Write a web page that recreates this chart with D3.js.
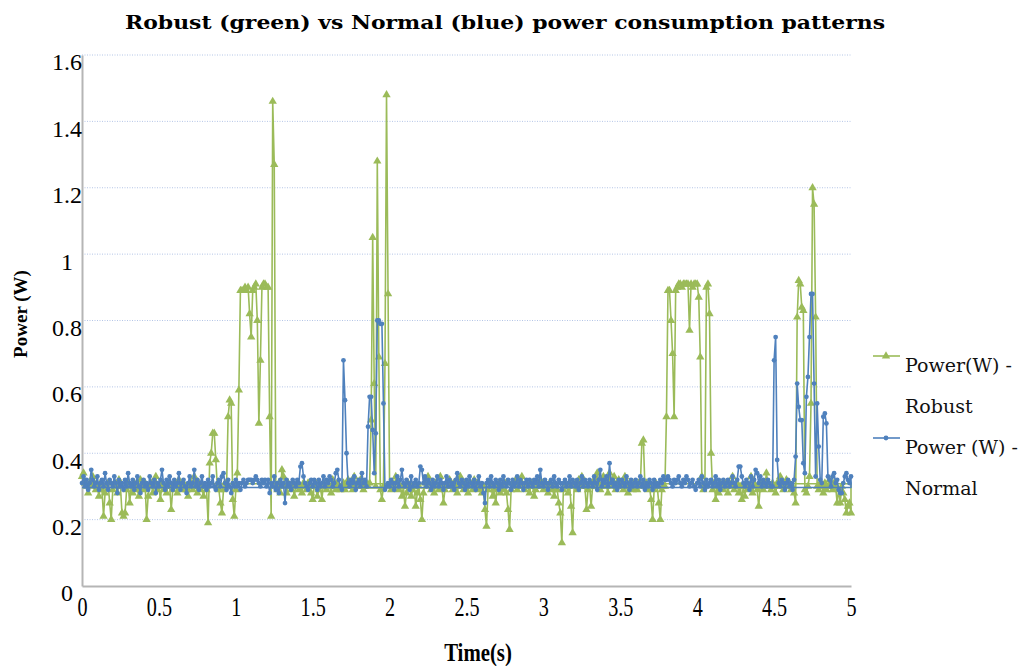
<!DOCTYPE html>
<html>
<head>
<meta charset="utf-8">
<script src="https://d3js.org/d3.v7.min.js"></script>
<style>
  body { margin: 0; background: #fff; }
  svg { display: block; }
  text { font-family: "Liberation Serif", "Times New Roman", Times, serif; }
</style>
</head>
<body>
<svg id="chart"></svg>
<script>

// samples every 10 ms, 0 .. 5 s
var timeStep = 0.01;

var robust = [
  .33,.34,.31,.30,.28,.31,.30,.33,.31,.29,
  .30,.27,.31,.29,.21,.28,.30,.31,.25,.20,
  .29,.31,.30,.28,.32,.30,.22,.21,.22,.29,
  .31,.25,.30,.28,.31,.30,.29,.27,.32,.30,
  .29,.31,.20,.27,.30,.31,.28,.30,.33,.29,
  .30,.26,.31,.29,.30,.28,.31,.30,.23,.29,
  .31,.30,.28,.32,.30,.29,.31,.30,.29,.27,
  .30,.31,.29,.33,.30,.28,.31,.29,.30,.27,
  .30,.29,.19,.37,.40,.46,.46,.38,.30,.29,
  .25,.22,.29,.31,.30,.51,.56,.55,.26,.21,
  .29,.34,.59,.89,.89,.89,.90,.89,.90,.82,
  .75,.89,.90,.91,.80,.49,.68,.90,.91,.91,
  .90,.90,.51,.21,1.46,1.27,.30,.29,.31,.28,
  .35,.33,.30,.28,.31,.30,.29,.31,.27,.30,
  .31,.29,.30,.28,.31,.30,.29,.31,.30,.28,
  .26,.30,.31,.27,.29,.30,.26,.31,.30,.29,
  .31,.30,.28,.32,.30,.29,.31,.30,.29,.30,
  .31,.29,.30,.32,.31,.30,.29,.33,.30,.31,
  .30,.32,.31,.29,.30,.31,.30,.31,.50,1.05,
  .61,.30,1.28,.69,.29,.26,.30,.67,1.48,.88,
  .30,.29,.31,.30,.33,.31,.29,.30,.27,.30,
  .24,.28,.31,.30,.27,.29,.30,.24,.28,.30,
  .26,.20,.28,.31,.30,.33,.31,.29,.30,.28,
  .31,.30,.29,.33,.30,.25,.29,.31,.30,.32,
  .30,.29,.31,.30,.28,.31,.33,.30,.29,.31,
  .30,.28,.31,.30,.29,.32,.30,.31,.29,.30,
  .28,.30,.23,.18,.29,.31,.30,.27,.29,.25,
  .30,.31,.28,.30,.29,.31,.28,.23,.17,.29,
  .31,.30,.32,.29,.31,.30,.33,.30,.29,.31,
  .30,.28,.31,.30,.27,.29,.31,.30,.32,.30,
  .29,.31,.30,.28,.31,.30,.29,.27,.30,.29,
  .25,.22,.13,.29,.31,.30,.28,.31,.24,.16,
  .30,.31,.29,.32,.30,.33,.31,.30,.23,.29,
  .31,.24,.30,.32,.30,.34,.31,.29,.30,.33,
  .31,.30,.28,.34,.31,.30,.33,.29,.30,.32,
  .30,.31,.29,.33,.30,.28,.31,.30,.29,.31,
  .30,.29,.31,.30,.43,.44,.30,.31,.29,.30,
  .26,.20,.29,.31,.30,.25,.20,.29,.30,.30,
  .51,.89,.89,.80,.70,.51,.89,.90,.91,.91,
  .90,.91,.91,.91,.91,.77,.91,.90,.91,.91,
  .91,.87,.69,.33,.29,.30,.90,.91,.82,.40,
  .29,.31,.26,.30,.28,.31,.30,.29,.31,.30,
  .28,.31,.30,.33,.29,.30,.31,.28,.30,.26,
  .30,.27,.31,.29,.30,.33,.28,.31,.30,.29,
  .24,.30,.31,.29,.30,.34,.31,.30,.29,.31,
  .30,.28,.31,.30,.33,.31,.29,.30,.32,.30,
  .31,.29,.30,.28,.25,.81,.92,.91,.84,.83,
  .29,.28,.30,.33,.55,1.20,1.15,.81,.30,.29,
  .31,.30,.28,.31,.29,.30,.32,.30,.29,.31,
  .30,.25,.29,.25,.30,.28,.26,.22,.24,.25,
  .22
];

var normal = [
  .31,.33,.30,.32,.29,.31,.35,.32,.30,.31,
  .33,.29,.31,.32,.30,.34,.31,.29,.32,.31,
  .30,.33,.31,.28,.32,.30,.31,.29,.32,.30,
  .34,.31,.30,.32,.29,.31,.33,.30,.28,.31,
  .32,.30,.31,.29,.33,.31,.30,.32,.28,.31,
  .30,.32,.35,.31,.29,.32,.30,.33,.31,.29,
  .32,.30,.31,.34,.29,.31,.32,.30,.28,.31,
  .33,.30,.31,.35,.30,.32,.29,.31,.33,.30,
  .31,.29,.32,.30,.31,.33,.30,.29,.31,.32,
  .30,.33,.34,.31,.29,.32,.30,.28,.31,.30,
  .32,.30,.31,.29,.31,.32,.30,.31,.32,.32,
  .32,.31,.32,.33,.32,.31,.30,.32,.31,.32,
  .30,.32,.28,.31,.30,.33,.29,.31,.28,.32,
  .30,.31,.25,.32,.30,.31,.29,.32,.31,.30,
  .32,.31,.36,.37,.33,.31,.30,.29,.31,.32,
  .30,.32,.31,.29,.32,.30,.31,.33,.30,.32,
  .31,.33,.32,.30,.31,.34,.35,.32,.30,.29,
  .68,.56,.40,.31,.30,.32,.31,.33,.29,.31,
  .32,.30,.34,.31,.32,.30,.48,.57,.57,.47,
  .34,.46,.80,.80,.79,.79,.55,.29,.30,.31,
  .30,.32,.31,.29,.31,.33,.30,.32,.35,.31,
  .30,.32,.31,.29,.33,.30,.31,.32,.30,.31,
  .36,.35,.31,.33,.30,.32,.31,.29,.32,.30,
  .31,.33,.30,.32,.31,.29,.31,.33,.30,.32,
  .30,.31,.29,.32,.34,.31,.30,.32,.31,.29,
  .32,.30,.33,.31,.30,.32,.29,.31,.33,.30,
  .31,.28,.25,.31,.32,.30,.33,.31,.30,.32,
  .31,.29,.32,.30,.33,.31,.30,.32,.31,.29,
  .32,.30,.31,.33,.30,.32,.31,.29,.31,.32,
  .30,.32,.31,.30,.32,.31,.33,.30,.35,.31,
  .30,.32,.31,.29,.31,.32,.30,.33,.31,.30,
  .32,.31,.29,.31,.32,.30,.31,.33,.30,.32,
  .31,.30,.32,.29,.31,.33,.30,.32,.31,.30,
  .32,.31,.30,.33,.31,.29,.32,.35,.30,.32,
  .31,.33,.30,.37,.31,.32,.30,.31,.29,.32,
  .30,.32,.31,.30,.33,.31,.29,.32,.30,.31,
  .32,.30,.31,.33,.30,.32,.29,.31,.30,.32,
  .31,.29,.32,.30,.31,.30,.32,.31,.33,.32,
  .32,.33,.32,.31,.30,.32,.31,.32,.33,.31,
  .30,.32,.31,.33,.32,.30,.31,.32,.30,.29,
  .31,.32,.30,.33,.31,.29,.32,.30,.31,.32,
  .30,.31,.33,.30,.32,.29,.31,.32,.30,.31,
  .32,.30,.31,.33,.31,.30,.32,.36,.36,.33,
  .31,.30,.32,.31,.29,.33,.30,.32,.35,.34,
  .31,.33,.30,.32,.31,.30,.32,.31,.30,.30,
  .68,.75,.38,.31,.30,.32,.31,.29,.31,.32,
  .30,.31,.29,.32,.39,.61,.54,.50,.50,.37,
  .34,.57,.63,.75,.88,.88,.61,.33,.55,.42,
  .32,.31,.51,.52,.49,.33,.32,.30,.33,.34,
  .31,.32,.29,.28,.28,.31,.33,.34,.32,.31,
  .33
];

// level of the flat return segment each series draws across the whole span
var robustReturn = 0.308;
var normalReturn = 0.297;

var yTicks = [0, 0.2, 0.4, 0.6, 0.8, 1, 1.2, 1.4, 1.6];
var xTicks = [0, 0.5, 1, 1.5, 2, 2.5, 3, 3.5, 4, 4.5, 5];

var green = "#9bbb59";
var blue = "#4f81bd";
var serif = "'Liberation Serif', 'Times New Roman', Times, serif";

var width = 1029, height = 666;
var svg = d3.select("#chart").attr("width", width).attr("height", height);

var x = d3.scaleLinear().domain([0, 5]).range([82, 851]);
var y = d3.scaleLinear().domain([0, 1.6]).range([586, 55]);

// gridlines
svg.append("g")
  .selectAll("line")
  .data(yTicks.filter(function (d) { return d > 0; }))
  .enter().append("line")
  .attr("x1", x(0)).attr("x2", x(5))
  .attr("y1", function (d) { return y(d); })
  .attr("y2", function (d) { return y(d); })
  .style("stroke", "#b4c5e6")
  .style("stroke-width", 1)
  .style("stroke-dasharray", "1,1.5");

// y axis
var yAxis = svg.append("g")
  .attr("transform", "translate(" + x(0) + ",0)")
  .call(d3.axisLeft(y).tickValues(yTicks).tickSize(0).tickPadding(15)
    .tickFormat(function (d) { return String(d); }));
yAxis.attr("font-family", null);
yAxis.select(".domain").style("stroke", "#b5b5b5").style("stroke-width", 2);
yAxis.selectAll("text")
  .attr("text-anchor", "middle")
  .attr("dy", "0.62em")
  .style("font-family", serif)
  .style("font-size", "24px")
  .style("fill", "#000");

// x axis
var xAxis = svg.append("g")
  .attr("transform", "translate(0," + y(0) + ")")
  .call(d3.axisBottom(x).tickValues(xTicks).tickSize(0).tickPadding(10)
    .tickFormat(function (d) { return String(d); }));
xAxis.attr("font-family", null);
xAxis.select(".domain").style("stroke", "#b5b5b5").style("stroke-width", 2);
xAxis.selectAll("text")
  .attr("transform", "scale(0.72,1)")
  .style("font-family", serif)
  .style("font-size", "28px")
  .style("fill", "#000");

function points(values) {
  return values.map(function (v, i) { return [i * timeStep, v]; });
}

var line = d3.line()
  .x(function (d) { return x(d[0]); })
  .y(function (d) { return y(d[1]); });

var series = [
  { name: "robust", values: points(robust), back: robustReturn, color: green,
    symbol: d3.symbol().type(d3.symbolTriangle).size(30) },
  { name: "normal", values: points(normal), back: normalReturn, color: blue,
    symbol: d3.symbol().type(d3.symbolCircle).size(18) }
];

series.forEach(function (s) {
  var g = svg.append("g").attr("class", s.name);
  var pts = s.values.concat([[5, s.back], [0, s.back]]);
  g.append("path")
    .attr("d", line(pts))
    .style("fill", "none")
    .style("stroke", s.color)
    .style("stroke-width", 1.6)
    .style("stroke-linejoin", "round");
  g.selectAll("path.mark")
    .data(s.values)
    .enter().append("path")
    .attr("class", "mark")
    .attr("d", s.symbol)
    .attr("transform", function (d) { return "translate(" + x(d[0]) + "," + y(d[1]) + ")"; })
    .style("fill", s.color);
});

// title and axis titles
svg.append("text")
  .attr("x", 505).attr("y", 29)
  .attr("text-anchor", "middle")
  .attr("textLength", 760)
  .attr("lengthAdjust", "spacingAndGlyphs")
  .style("font-family", "'DejaVu Serif', serif")
  .style("font-weight", "bold")
  .style("font-size", "19px")
  .text("Robust (green) vs Normal (blue) power consumption patterns");

svg.append("text")
  .attr("transform", "translate(478,661) scale(0.8,1)")
  .attr("text-anchor", "middle")
  .style("font-family", serif)
  .style("font-weight", "bold")
  .style("font-size", "26px")
  .text("Time(s)");

svg.append("text")
  .attr("transform", "translate(27,314) rotate(-90)")
  .attr("text-anchor", "middle")
  .style("font-family", serif)
  .style("font-weight", "bold")
  .style("font-size", "19px")
  .text("Power (W)");

// legend
var legend = [
  { lines: ["Power(W) -", "Robust"], color: green, y: 356, symbol: series[0].symbol },
  { lines: ["Power (W) -", "Normal"], color: blue, y: 438, symbol: series[1].symbol }
];
legend.forEach(function (l) {
  var g = svg.append("g");
  g.append("line")
    .attr("x1", 873).attr("x2", 900).attr("y1", l.y).attr("y2", l.y)
    .style("stroke", l.color).style("stroke-width", 1.6);
  g.append("path")
    .attr("d", l.symbol)
    .attr("transform", "translate(886," + l.y + ")")
    .style("fill", l.color);
  l.lines.forEach(function (t, i) {
    g.append("text")
      .attr("x", 905).attr("y", l.y + 16 + i * 41)
      .style("font-family", "'DejaVu Serif', serif")
      .style("font-size", "19px")
      .style("fill", "#111")
      .text(t);
  });
});

</script>
</body>
</html>
